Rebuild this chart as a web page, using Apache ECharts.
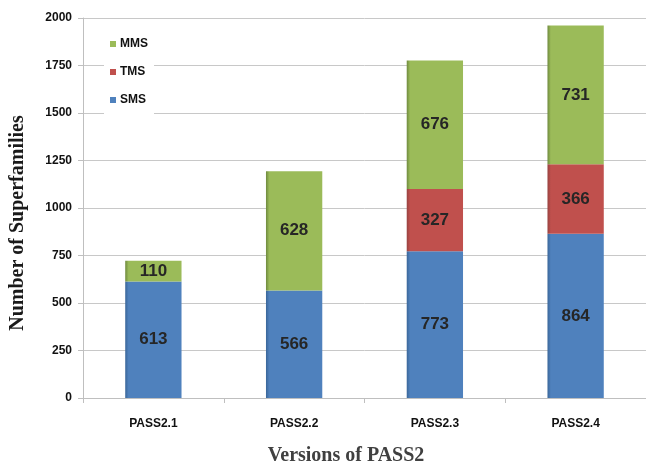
<!DOCTYPE html>
<html>
<head>
<meta charset="utf-8">
<script src="https://cdn.jsdelivr.net/npm/echarts@6/dist/echarts.min.js"></script>
<style>html,body{margin:0;padding:0;background:#fff;}#c{width:646px;height:463px;}</style>
</head>
<body>
<div id="c"></div>
<script>
var categories = ['PASS2.1', 'PASS2.2', 'PASS2.3', 'PASS2.4'];
var smsValues = [613, 566, 773, 864];
var tmsValues = [null, null, 327, 366];
var mmsValues = [110, 628, 676, 731];
var yTicks = [0, 250, 500, 750, 1000, 1250, 1500, 1750, 2000];

function grad(dark, base) {
  return new echarts.graphic.LinearGradient(0, 0, 1, 0, [
    {offset: 0, color: dark},
    {offset: 0.06, color: base},
    {offset: 1, color: base}
  ]);
}
var labelStyle = {show: true, position: 'inside', fontFamily: 'Liberation Sans, Arial, sans-serif', fontWeight: 'bold', fontSize: 17, color: '#262626',
  formatter: function (p) { return p.value == null ? '' : p.value; }};

var chart = echarts.init(document.getElementById('c'));
chart.setOption({
  animation: false,
  backgroundColor: '#fff',
  grid: {left: 83, right: 0, top: 18, bottom: 65},
  legend: {
    orient: 'vertical', left: 104, top: 34, itemGap: 16, itemWidth: 6, itemHeight: 6,
    icon: 'rect', backgroundColor: '#fff', padding: [4, 6, 10, 6],
    data: ['MMS', 'TMS', 'SMS'],
    textStyle: {fontFamily: 'Liberation Sans, Arial, sans-serif', fontWeight: 'bold', fontSize: 12, color: '#111', padding: [0, 0, 0, -1]}
  },
  xAxis: {
    type: 'category', data: categories,
    axisLine: {lineStyle: {color: '#bfbfbf'}},
    axisTick: {show: true, length: 5, lineStyle: {color: '#bfbfbf'}},
    axisLabel: {margin: 20, fontFamily: 'Liberation Sans, Arial, sans-serif', fontWeight: 'bold', fontSize: 12, color: '#111'}
  },
  yAxis: {
    type: 'value', min: 0, max: 2000, interval: 250,
    axisLine: {show: true, lineStyle: {color: '#bfbfbf'}},
    axisTick: {show: true, length: 5, lineStyle: {color: '#bfbfbf'}},
    splitLine: {lineStyle: {color: '#c8c8c8'}},
    axisLabel: {margin: 11, fontFamily: 'Liberation Sans, Arial, sans-serif', fontWeight: 'bold', fontSize: 12, color: '#111',
      formatter: function (v) { return yTicks.indexOf(v) >= 0 ? String(v) : ''; }}
  },
  graphic: [
    {type: 'text', style: {text: 'Versions of PASS2', x: 346, y: 456, textAlign: 'center', textVerticalAlign: 'middle',
      font: 'bold 20px "Liberation Serif", "Times New Roman", serif', fill: '#404040'}},
    {type: 'text', x: 18, y: 223, rotation: Math.PI / 2, style: {text: 'Number of Superfamilies', x: 0, y: 0, textAlign: 'center', textVerticalAlign: 'middle',
      font: 'bold 20px "Liberation Serif", "Times New Roman", serif', fill: '#1a1a1a'}}
  ],
  series: [
    {name: 'SMS', type: 'bar', stack: 'a', barWidth: '40%', data: smsValues,
      itemStyle: {color: grad('#3a6699', '#4f81bd')}, label: labelStyle},
    {name: 'TMS', type: 'bar', stack: 'a', data: tmsValues,
      itemStyle: {color: grad('#974240', '#c0504d')}, label: labelStyle},
    {name: 'MMS', type: 'bar', stack: 'a', data: mmsValues,
      itemStyle: {color: grad('#6f8a3e', '#9bbb59')}, label: labelStyle}
  ]
});
</script>
</body>
</html>
